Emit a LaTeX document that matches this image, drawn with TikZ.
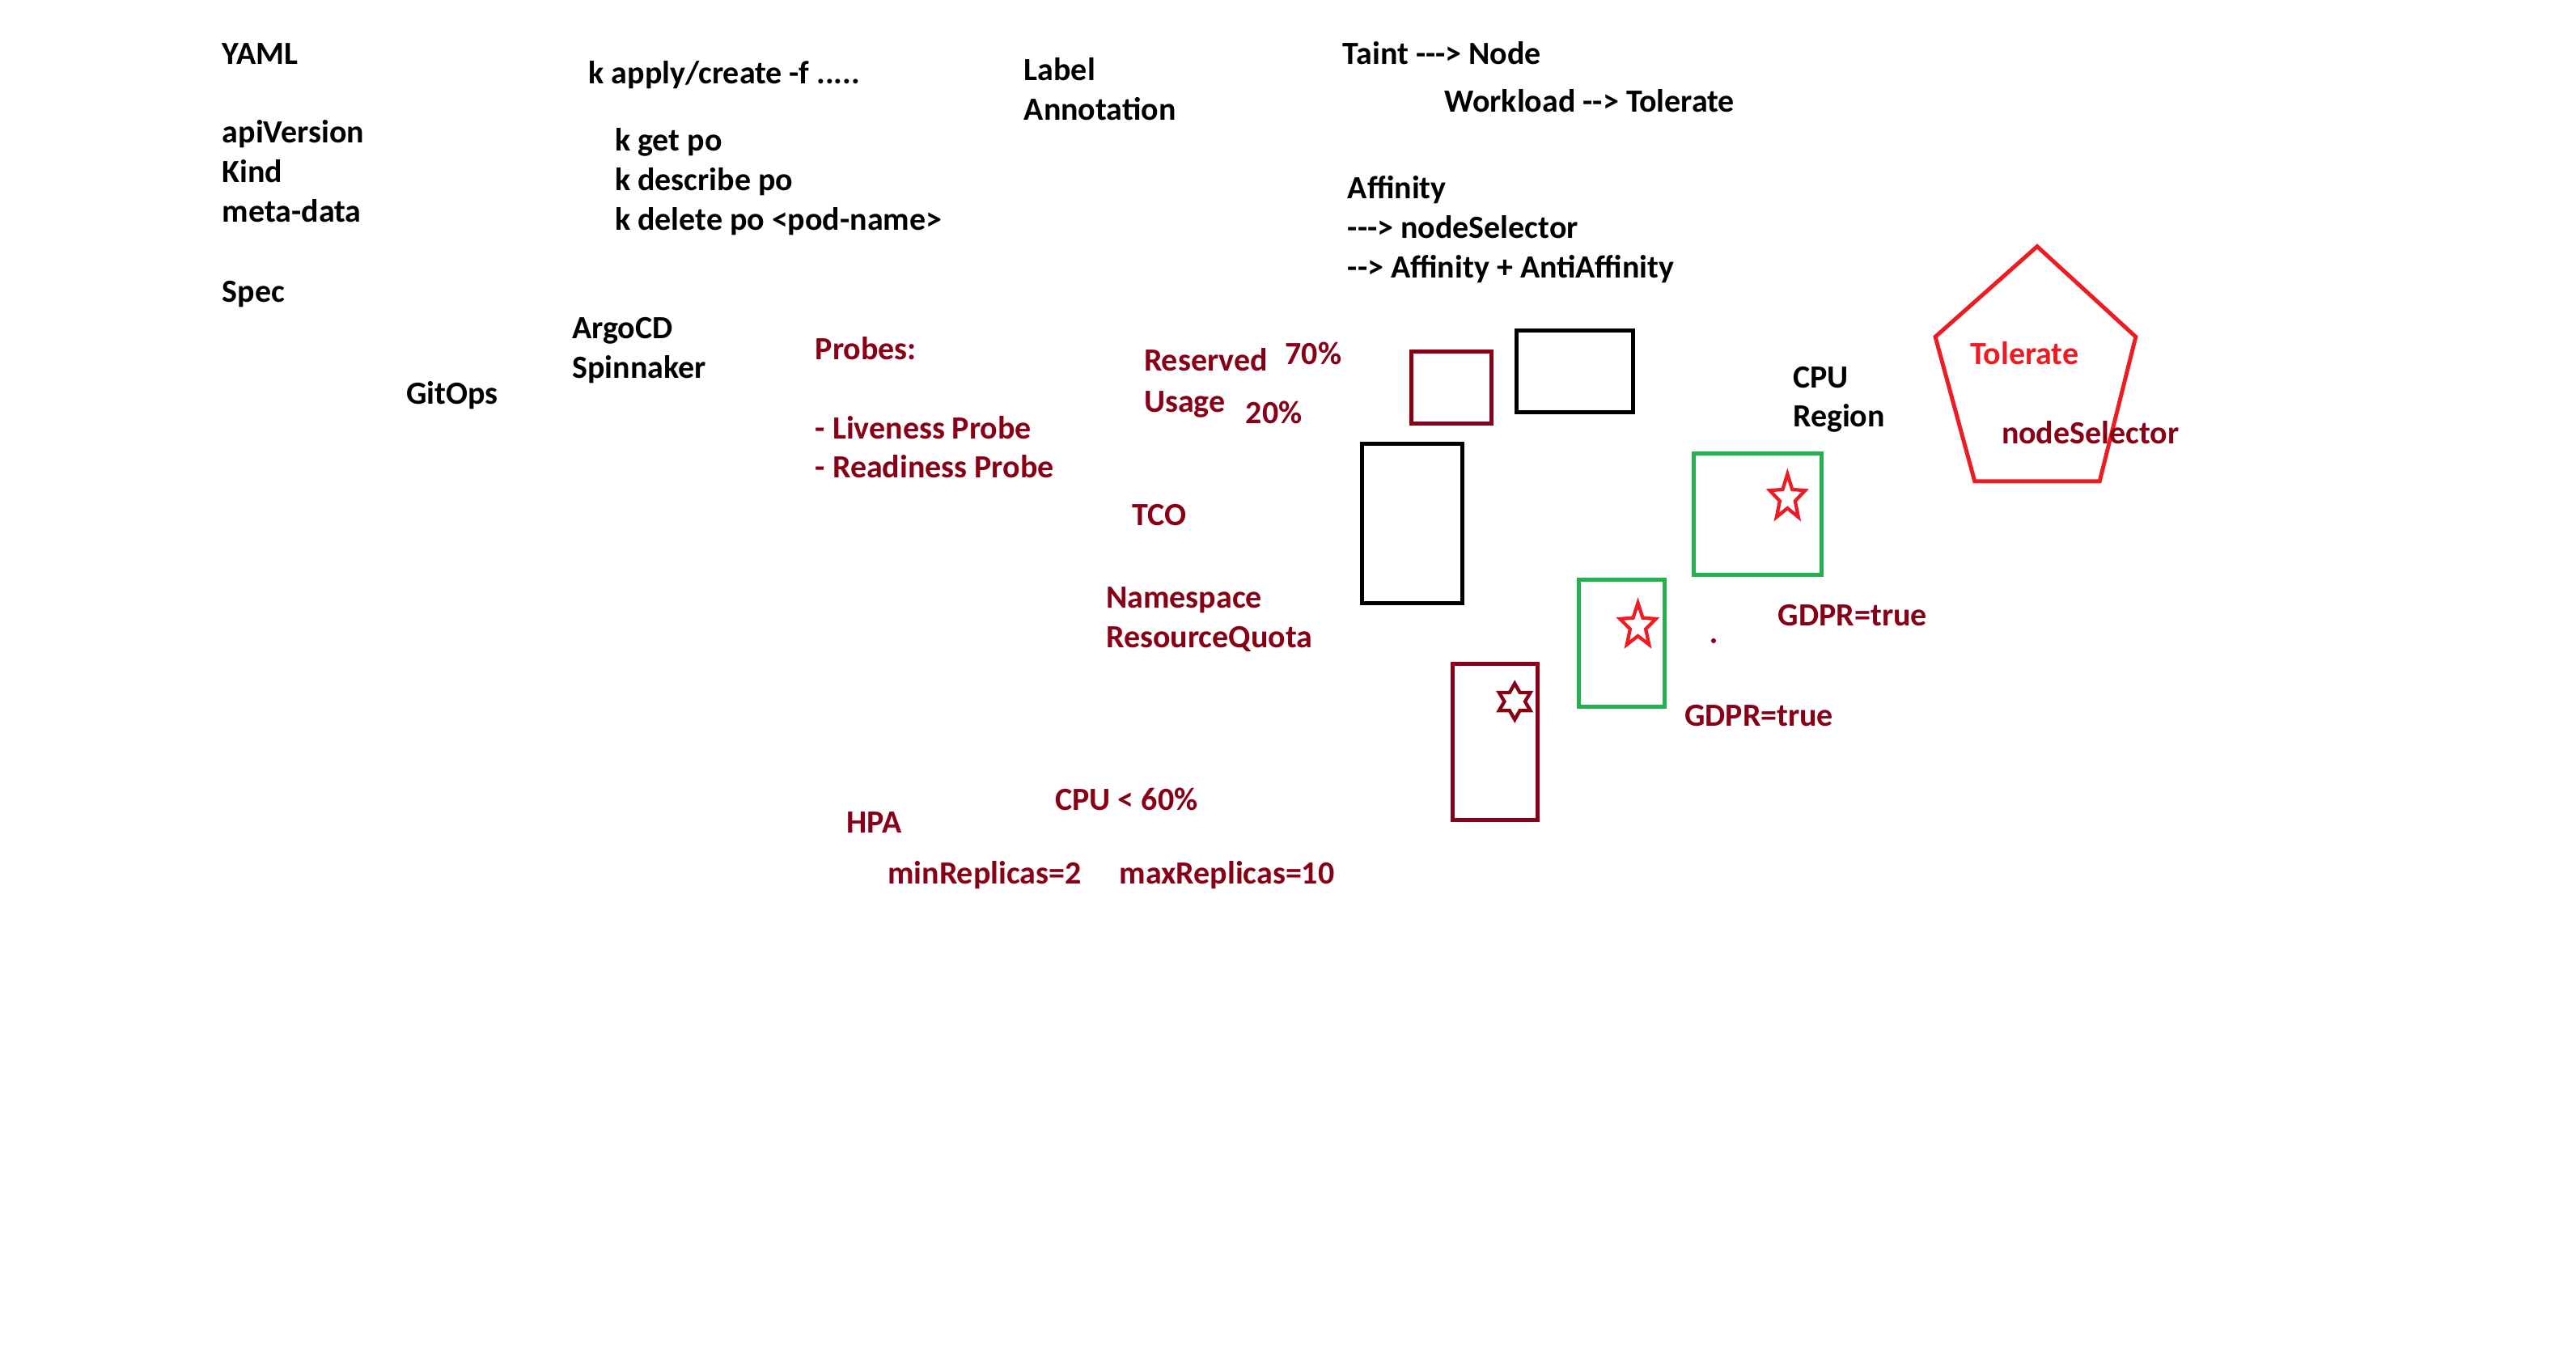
\documentclass[tikz,border=0pt]{standalone}
\usepackage{fontspec}
\setmainfont{Carlito}
\usetikzlibrary{shapes.geometric}

\definecolor{paintdark}{RGB}{136,0,21}
\definecolor{paintred}{RGB}{237,28,36}
\definecolor{paintgreen}{RGB}{34,177,76}

\tikzset{
  note/.style={anchor=base west, inner sep=0pt, font=\fontsize{11.2pt}{13.6pt}\selectfont\bfseries},
  blk/.style={note, text=black},
  drk/.style={note, text=paintdark},
  hot/.style={note, text=paintred},
  pod/.style={line width=1.4pt}
}

\begin{document}
\begin{tikzpicture}[x=0.02cm, y=-0.02cm]
    \useasboundingbox (0,0) rectangle (1568,825);
    % yaml
    \node[blk] (yaml) at (135,39) {YAML};
    \node[blk] (apiv) at (135,87) {apiVersion};
    \node[blk] (kind) at (135,111) {Kind};
    \node[blk] (meta) at (135,135) {meta-data};
    \node[blk] (spec) at (135,184) {Spec};
    % kubectl
    \node[blk] (apply) at (358,51) {k apply/create -f .....};
    \node[blk] (getpo) at (374,92) {k get po};
    \node[blk] (descpo) at (374,116) {k describe po};
    \node[blk] (delpo) at (374,140) {k delete po <pod-name>};
    \node[blk] (label) at (623,49) {Label};
    \node[blk] (annot) at (623,73) {Annotation};
    % scheduling
    \node[blk] (taint) at (817,39) {Taint {-}{-}{-}> Node};
    \node[blk] (workload) at (879,68) {Workload {-}{-}> Tolerate};
    \node[blk] (affin) at (820,121) {Affinity};
    \node[blk] (nodesel) at (820,145) {{-}{-}{-}> nodeSelector};
    \node[blk] (anti) at (820,169) {{-}{-}> Affinity + AntiAffinity};
    % gitops
    \node[blk] (argo) at (348,206) {ArgoCD};
    \node[blk] (spin) at (348,230) {Spinnaker};
    \node[blk] (gitops) at (247,246) {GitOps};
    \node[blk] (cpu) at (1091,236) {CPU};
    \node[blk] (region) at (1091,260) {Region};
    % probes and resources
    \node[drk] (probes) at (496,219) {Probes:};
    \node[drk] (live) at (496,267) {- Liveness Probe};
    \node[drk] (ready) at (496,291) {- Readiness Probe};
    \node[drk] (reserved) at (696,226) {Reserved};
    \node[drk] (usage) at (696,251) {Usage};
    \node[drk] (seventy) at (782,222) {70\%};
    \node[drk] (twenty) at (758,258) {20\%};
    \node[drk] (tco) at (689,320) {TCO};
    \node[drk] (ns) at (673,370) {Namespace};
    \node[drk] (quota) at (673,394) {ResourceQuota};
    \node[drk] (hpa) at (515,507) {HPA};
    \node[drk] (cpulim) at (642,493) {CPU < 60\%};
    \node[drk] (minrep) at (540,538) {minReplicas=2};
    \node[drk] (maxrep) at (681,538) {maxReplicas=10};
    \node[drk] (gdprA) at (1082,381) {GDPR=true};
    \node[drk] (gdprB) at (1025,442) {GDPR=true};
    % boxes
    \draw[pod, paintdark] (859,214) rectangle (908,258);
    \draw[pod] (923,201) rectangle (994,251);
    \draw[pod] (829,270) rectangle (890,367);
    \draw[pod, paintgreen] (1031,276) rectangle (1109,350);
    \draw[pod, paintgreen] (961,353) rectangle (1013,430);
    \draw[pod, paintdark] (884,404) rectangle (936,499);
    % stars
    \node[star, star points=5, star point ratio=2.3, draw=paintred, line width=1.2pt,
      minimum size=0.58cm, inner sep=0pt, xscale=0.78] (starA) at (1088,303) {};
    \node[star, star points=5, star point ratio=2.3, draw=paintred, line width=1.2pt,
      minimum size=0.56cm, inner sep=0pt, xscale=0.82] (starB) at (997,381) {};
    \node[star, star points=6, star point ratio=1.75, draw=paintdark, line width=1.2pt,
      minimum size=0.44cm, inner sep=0pt] (hexstar) at (922,427) {};
    \fill[paintdark] (1043,390) circle (1.5);
    % taint pentagon
    \draw[line width=1.4pt, paintred, line join=miter]
      (1240,150) -- (1300,205) -- (1278,293) -- (1202,293) -- (1178,205) -- cycle;
    \node[hot] (toler) at (1199,222) {Tolerate};
    \node[drk] (nsel) at (1218,270) {nodeSelector};
\end{tikzpicture}
\end{document}
